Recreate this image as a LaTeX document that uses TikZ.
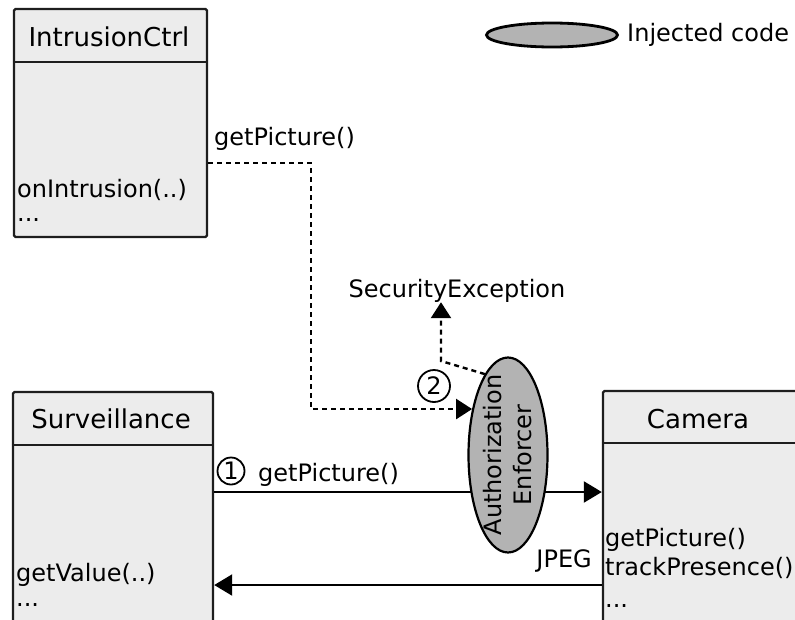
\documentclass[tikz,border=0pt]{standalone}
\usepackage{fontspec}
\setmainfont{DejaVu Sans}
\usetikzlibrary{arrows.meta,shapes.geometric}
\definecolor{boxgray}{RGB}{236,236,236}
\definecolor{injgray}{RGB}{179,179,179}
\definecolor{edge}{RGB}{30,30,30}
\begin{document}
\begin{tikzpicture}[x=1pt,y=-1pt,
  font=\fontsize{24}{29}\selectfont,
  umlbox/.style={draw=edge, line width=2.4pt, fill=boxgray, rounded corners=1.5pt, inner sep=0pt},
  divider/.style={draw=edge, line width=2.4pt},
  title/.style={anchor=base, inner sep=0pt, font=\fontsize{26}{30}\selectfont},
  member/.style={anchor=base west, inner sep=0pt},
  lbl/.style={inner sep=0pt},
  inj/.style={ellipse, draw=black, fill=injgray, inner sep=0pt},
  solidarrow/.style={draw=black, line width=2.2pt, -{Triangle[length=18pt,width=21pt]}},
  dotarrow/.style={draw=black, line width=2.4pt, dash pattern=on 5pt off 4pt, -{Triangle[length=16pt,width=20pt]}},
  numcircle/.style={circle, draw=black, line width=1.8pt, fill=white, inner sep=0pt, font=\fontsize{24}{24}\selectfont}
]
\useasboundingbox (0,0) rectangle (795,619);
\clip (0,0) rectangle (795,619);

% IntrusionCtrl
\node[umlbox, minimum width=193pt, minimum height=228pt] (ic) at (110.5,123) {};
\draw[divider] (ic.west |- 0,62) -- (ic.east |- 0,62);
\node[title] (ictitle) at (109,46) {IntrusionCtrl};
\node[member] (icm1) at (17,197) {onIntrusion(..)};
\node[member] (icm2) at (17,221) {...};

% Surveillance
\node[umlbox, minimum width=200pt, minimum height=248pt] (sv) at (113,516) {};
\draw[divider] (sv.west |- 0,445) -- (sv.east |- 0,445);
\node[title] (svtitle) at (111,428) {Surveillance};
\node[member] (svm1) at (16,581) {getValue(..)};
\node[member] (svm2) at (16,606) {...};

% Camera
\node[umlbox, minimum width=217pt, minimum height=249pt] (cam) at (711.5,515.5) {};
\draw[divider] (cam.west |- 0,443) -- (cam.east |- 0,443);
\node[title] (camtitle) at (698,428) {Camera};
\node[member] (camm1) at (605,546) {getPicture()};
\node[member] (camm2) at (605,575) {trackPresence()};
\node[member] (camm3) at (605,607) {...};

% call 1 and reply
\draw[solidarrow] (sv.east |- 0,492) -- (cam.west |- 0,492);
\draw[solidarrow] (cam.west |- 0,585) -- (sv.east |- 0,585);
\node[numcircle, minimum size=27pt] (n1) at (231,471) {1};
\node[lbl, anchor=base west] (call1) at (258,481) {getPicture()};
\node[lbl, anchor=base east] (jpeg) at (592,567) {JPEG};

% Authorization Enforcer
\node[inj, line width=2.2pt, minimum width=79pt, minimum height=195pt] (ae) at (508,455) {};
\node[lbl, rotate=90, align=center, font=\fontsize{24}{30}\selectfont] (aetext) at (ae.center) {Authorization\\Enforcer};

% call 2
\node[lbl, anchor=base west] (call2) at (214,145) {getPicture()};
\draw[dotarrow] (ic.east |- 0,163) -| (311,0 |- ae.128) -- (ae.128);
\node[numcircle, minimum size=32pt] (n2) at (434,386) {2};

% security exception
\node[lbl, anchor=base] (se) at (457,297) {SecurityException};
\draw[dotarrow] (ae.106) -- (441,361) -- (se.south -| 441,0);

% legend
\node[inj, line width=2.8pt, minimum width=131pt, minimum height=24pt] (leg) at (552,35) {};
\node[lbl, anchor=west] (legtxt) at (627,35) {Injected code};
\end{tikzpicture}
\end{document}
